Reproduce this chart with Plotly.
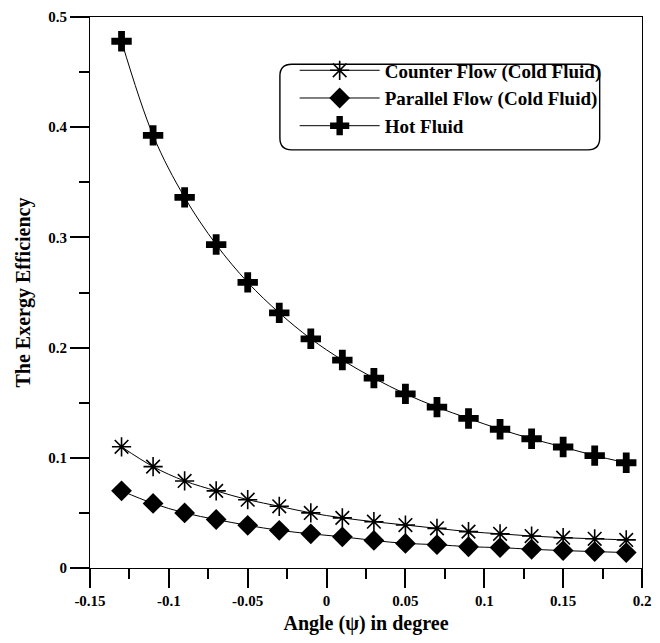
import plotly.graph_objects as go

angle = [-0.13, -0.11, -0.09, -0.07, -0.05, -0.03, -0.01, 0.01, 0.03,
         0.05, 0.07, 0.09, 0.11, 0.13, 0.15, 0.17, 0.19]
counter_flow = [0.110, 0.092, 0.079, 0.070, 0.062, 0.056, 0.050, 0.0455, 0.042,
                0.039, 0.036, 0.033, 0.031, 0.029, 0.0275, 0.0265, 0.0255]
parallel_flow = [0.070, 0.0586, 0.050, 0.044, 0.0387, 0.0342, 0.031, 0.0283, 0.025,
                 0.0223, 0.0212, 0.0193, 0.0185, 0.017, 0.0158, 0.0149, 0.014]
hot_fluid = [0.478, 0.3926, 0.3363, 0.2935, 0.2592, 0.2315, 0.208, 0.1887, 0.1723,
             0.158, 0.146, 0.1357, 0.1259, 0.1173, 0.1098, 0.102, 0.0955]

x_range = [-0.15, 0.2]
y_range = [0, 0.5]
x_tickvals = [-0.15, -0.1, -0.05, 0, 0.05, 0.1, 0.15, 0.2]
x_ticktext = ["-0.15", "-0.1", "-0.05", "0", "0.05", "0.1", "0.15", "0.2"]
x_minor_vals = [-0.125, -0.075, -0.025, 0.025, 0.075, 0.125, 0.175]
y_tickvals = [0, 0.1, 0.2, 0.3, 0.4, 0.5]
y_ticktext = ["0", "0.1", "0.2", "0.3", "0.4", "0.5"]
y_minor_vals = [0.05, 0.15, 0.25, 0.35, 0.45]

FONT = "Liberation Serif"
line_style = dict(color="black", width=1, shape="spline")

fig = go.Figure()
fig.add_trace(go.Scatter(
    x=angle, y=counter_flow, mode="lines+markers",
    name="Counter Flow (Cold Fluid)", line=line_style,
    marker=dict(symbol="asterisk-open", size=16, color="black",
                line=dict(color="black", width=1.6))))
fig.add_trace(go.Scatter(
    x=angle, y=parallel_flow, mode="lines+markers",
    name="Parallel Flow (Cold Fluid)", line=line_style,
    marker=dict(symbol="diamond", size=16, color="black")))
fig.add_trace(go.Scatter(
    x=angle, y=hot_fluid, mode="lines+markers",
    name="Hot Fluid", line=line_style,
    marker=dict(symbol="cross", size=17, color="black")))

# page offset of the figure (browser body margin)
OFF = 8
W, H = 644, 627
L, R, T, B = 82, 1, 4, 63
PL, PT = L + OFF, T + OFF          # plot-area origin in page pixels
pw, ph = W - L - R, H - T - B

def px2paper(px, py):
    return (px - PL) / pw, (PT + ph - py) / ph

# rounded legend frame
x0, y0 = px2paper(283, 60)
x1, y1 = px2paper(608, 147)
rx, ry = 12 / pw, 12 / ph
path = (f"M {x0+rx},{y0} L {x1-rx},{y0} Q {x1},{y0} {x1},{y0-ry} "
        f"L {x1},{y1+ry} Q {x1},{y1} {x1-rx},{y1} "
        f"L {x0+rx},{y1} Q {x0},{y1} {x0},{y1+ry} "
        f"L {x0},{y0-ry} Q {x0},{y0} {x0+rx},{y0} Z")

lx, ly = px2paper(298, 47)

tickfont = dict(family=FONT, size=15, color="black", weight="bold")
axis_common = dict(
    showline=True, linecolor="black", linewidth=1, mirror=True,
    showgrid=False, zeroline=False, ticks="outside", ticklen=19,
    tickwidth=1.5, tickcolor="black", ticklabeloverflow="allow",
    tickfont=tickfont,
)

fig.update_layout(
    width=W, height=H,
    margin=dict(l=L, r=R, t=T, b=B, pad=0),
    paper_bgcolor="white", plot_bgcolor="white",
    font=dict(family=FONT, color="black"),
    xaxis=dict(range=x_range, tickmode="array", tickvals=x_tickvals,
               ticktext=x_ticktext,
               minor=dict(ticks="outside", ticklen=10, tickmode="array",
                          tickvals=x_minor_vals, tickcolor="black", tickwidth=1.5),
               title=dict(text="Angle (ψ) in degree", standoff=11,
                          font=dict(family=FONT, size=20, color="black", weight="bold")),
               **axis_common),
    yaxis=dict(range=y_range, tickmode="array", tickvals=y_tickvals,
               ticktext=y_ticktext,
               minor=dict(ticks="outside", ticklen=10, tickmode="array",
                          tickvals=y_minor_vals, tickcolor="black", tickwidth=1.5),
               title=dict(text="The Exergy Efficiency", standoff=12,
                          font=dict(family=FONT, size=20, color="black", weight="bold")),
               **axis_common),
    showlegend=True,
    legend=dict(x=lx, y=ly, xanchor="left", yanchor="top",
                bgcolor="rgba(0,0,0,0)", borderwidth=0,
                font=dict(family=FONT, size=19, color="black", weight="bold"),
                itemwidth=80, tracegroupgap=0),
    shapes=[dict(type="path", path=path, xref="paper", yref="paper",
                 line=dict(color="black", width=1.4), fillcolor="white",
                 layer="below")],
)

fig.write_html("out.html")
